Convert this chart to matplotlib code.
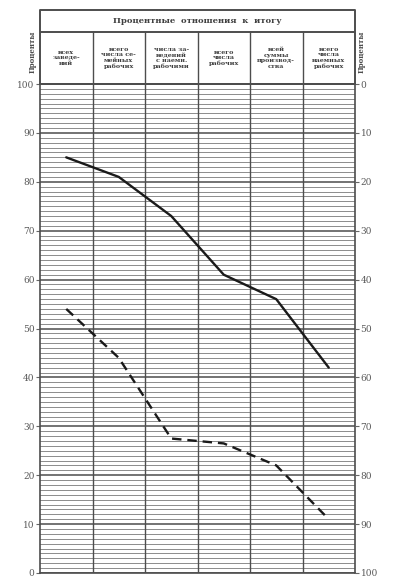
import matplotlib
matplotlib.use('Agg')
import matplotlib.pyplot as plt
import numpy as np
plt.rc('font', family='DejaVu Serif')

title = 'Процентные  отношения  к  итогу'
columns = ['всех\nзаведе-\nний',
           'всего\nчисла се-\nмейных\nрабочих',
           'числа за-\nведений\nс наемн.\nрабочими',
           'всего\nчисла\nрабочих',
           'всей\nсуммы\nпроизвод-\nства',
           'всего\nчисла\nнаемных\nрабочих']
solid = [85, 81, 73, 61, 56, 42]
dashed = [54, 44, 27.5, 26.5, 22, 11]
left_ticks = list(range(0, 101, 10))
right_ticks = list(range(0, 101, 10))

fig = plt.figure(figsize=(4, 5.86), dpi=100)
W, H = 400., 586.
x0, x1 = 40/W, 355/W
y0, y1 = 1-573/H, 1-84/H
ytop = 1-10/H

ax = fig.add_axes([x0, y0, x1-x0, y1-y0])
xs = np.arange(len(columns)) + 0.5
ax.set_xlim(0, len(columns))
ax.set_ylim(0, 100)
ax.set_yticks(np.arange(0, 101, 1), minor=True)
ax.set_yticks(left_ticks)
ax.set_yticklabels([str(v) for v in left_ticks], fontsize=6.5, color='0.35')
ax.grid(which='minor', axis='y', color='0.55', lw=0.7)
ax.grid(which='major', axis='y', color='0.3', lw=1.1)
ax.set_xticks([])
ax.tick_params(axis='y', which='minor', length=0)
ax.tick_params(axis='y', which='major', length=3, color='0.4', pad=1)
for i in range(1, len(columns)):
    ax.axvline(i, color='0.3', lw=1.0)
for s in ax.spines.values():
    s.set_color('0.3')
    s.set_linewidth(1.2)

ax.plot(xs, solid, color='0.1', lw=1.7, solid_capstyle='round')
ax.plot(xs, dashed, color='0.1', lw=1.7, ls=(0, (4, 2.5)))

ax2 = ax.twinx()
ax2.set_ylim(100, 0)
ax2.set_yticks(right_ticks)
ax2.set_yticklabels([str(v) for v in right_ticks], fontsize=6.5, color='0.35')
ax2.tick_params(axis='y', length=3, color='0.4', pad=1)
for s in ax2.spines.values():
    s.set_visible(False)

# header table
hx = fig.add_axes([x0, y1, x1-x0, ytop-y1])
hx.set_xlim(0, len(columns))
hx.set_ylim(0, 1)
hx.axis('off')
div = (84-32)/74.
hx.plot([0, 6, 6, 0, 0], [0, 0, 1, 1, 0], color='0.3', lw=1.4, clip_on=False)
hx.plot([0, 6], [div, div], color='0.3', lw=1.4)
for i in range(1, len(columns)):
    hx.plot([i, i], [0, div], color='0.3', lw=1.0)
hx.text(3, (1+div)/2, title, ha='center', va='center', fontsize=6,
        color='0.25', weight='bold')
for x, lab in zip(xs, columns):
    hx.text(x, div/2, lab, ha='center', va='center', fontsize=4.6,
            color='0.25', weight='bold', linespacing=1.15)

fig.text(33/W, 1-52/H, 'Проценты', rotation=90, ha='center', va='center',
         fontsize=5, color='0.3', weight='bold')
fig.text(362/W, 1-52/H, 'Проценты', rotation=90, ha='center', va='center',
         fontsize=5, color='0.3', weight='bold')

fig.savefig('out.png', dpi=100)
